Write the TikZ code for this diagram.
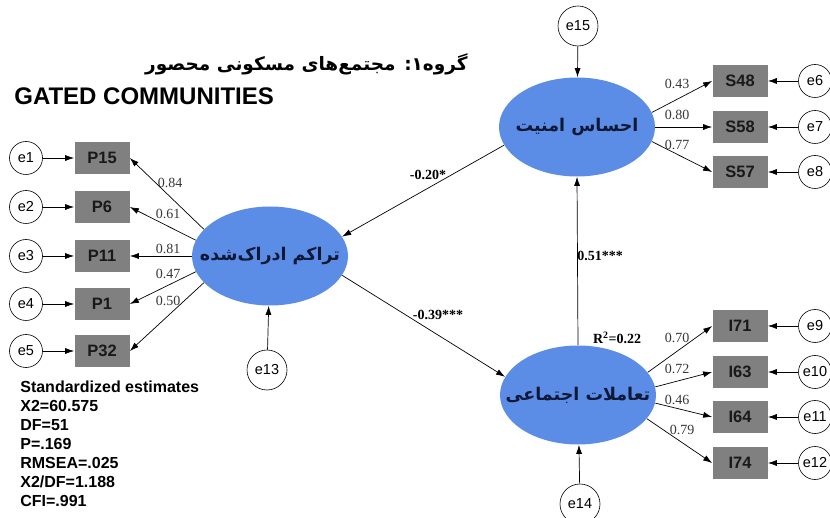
\documentclass[tikz,border=0pt]{standalone}
\usepackage{fontspec}
\setmainfont{Liberation Serif}
\setsansfont{Liberation Sans}
\newfontfamily\arabicfont[Script=Arabic]{DejaVu Sans}
\TeXXeTstate=1
\usetikzlibrary{shapes.geometric,arrows.meta}
\definecolor{latentblue}{RGB}{92,141,230}
\definecolor{latenttext}{RGB}{15,25,55}
\definecolor{obsgray}{RGB}{128,128,128}
\definecolor{coefgray}{RGB}{55,55,55}
\newcommand{\fatext}[1]{\makebox[0pt]{\beginR #1\endR}}

\begin{document}
\begin{tikzpicture}[x=1pt, y=-1pt, >={Latex[length=9pt,width=6pt]}, line width=0.7pt,
    latent/.style={ellipse, fill=latentblue, minimum width=156pt, minimum height=99pt, inner sep=0pt,
      text=latenttext, font=\arabicfont\bfseries\fontsize{17.5}{20}\selectfont},
    obs/.style={rectangle, fill=obsgray, minimum width=55pt, minimum height=32pt, inner sep=0pt,
      text=black!90, font=\sffamily\bfseries\fontsize{16.5}{18}\selectfont},
    err/.style={circle, draw, fill=white, line width=0.6pt, inner sep=1pt, minimum size=33pt,
      font=\sffamily\fontsize{14.5}{15}\selectfont},
    errbig/.style={err, minimum size=40pt},
    coef/.style={text=coefgray, inner sep=0pt, font=\fontsize{14}{15}\selectfont},
    path coef/.style={inner sep=0pt, font=\bfseries\fontsize{14}{15}\selectfont}]
  \useasboundingbox (0,0) rectangle (830,518);

  % titles
  \node[anchor=east, inner sep=0pt, font=\arabicfont\bfseries\fontsize{18.5}{20}\selectfont] (titlefa) at (468,64)
    {\beginR گروه۱: مجتمع^^^^200cهای مسکونی محصور\endR};
  \node[anchor=base west, inner sep=0pt, font=\sffamily\bfseries\fontsize{24}{26}\selectfont] (titleen) at (14,105)
    {GATED COMMUNITIES};

  % latent variables
  \node[latent] (tarakom) at (270,256) {\fatext{تراکم ادراک^^^^200cشده}};
  \node[latent] (amniat) at (577,127) {\fatext{احساس امنیت}};
  \node[latent] (taamol) at (578,395) {\fatext{تعاملات اجتماعی}};

  % observed variables, left
  \node[obs] (p15) at (102,158) {P15};
  \node[obs] (p6) at (102,207) {P6};
  \node[obs] (p11) at (102,256) {P11};
  \node[obs] (p1) at (102,304) {P1};
  \node[obs] (p32) at (102,351) {P32};
  \node[err] (e1) at (26,158) {e1};
  \node[err] (e2) at (26,207) {e2};
  \node[err] (e3) at (26,256) {e3};
  \node[err] (e4) at (26,304) {e4};
  \node[err] (e5) at (26,351) {e5};
  \draw[->] (e1) -- (p15);
  \draw[->] (e2) -- (p6);
  \draw[->] (e3) -- (p11);
  \draw[->] (e4) -- (p1);
  \draw[->] (e5) -- (p32);
  \draw[->] (tarakom.158) -- (p15.east);
  \draw[->] (tarakom.168) -- (p6.east);
  \draw[->] (tarakom.180) -- (p11.east);
  \draw[->] (tarakom.192) -- (p1.east);
  \draw[->] (tarakom.202) -- (p32.east);
  \node[coef] (l84) at (170,183) {0.84};
  \node[coef] (l61) at (168,214) {0.61};
  \node[coef] (l81) at (168,249) {0.81};
  \node[coef] (l47) at (168,274) {0.47};
  \node[coef] (l50) at (168,301) {0.50};

  % observed variables, security
  \node[obs] (s48) at (740,81) {S48};
  \node[obs] (s58) at (740,127) {S58};
  \node[obs] (s57) at (740,172) {S57};
  \node[err] (e6) at (815,81) {e6};
  \node[err] (e7) at (815,127) {e7};
  \node[err] (e8) at (815,172) {e8};
  \draw[->] (e6) -- (s48);
  \draw[->] (e7) -- (s58);
  \draw[->] (e8) -- (s57);
  \draw[->] (amniat.11) -- (s48.west);
  \draw[->] (amniat.0) -- (s58.west);
  \draw[->] (amniat.349) -- (s57.west);
  \node[coef] (l43) at (677,84) {0.43};
  \node[coef] (l80) at (677,115) {0.80};
  \node[coef] (l77) at (677,145) {0.77};

  % observed variables, interaction
  \node[obs] (i71) at (740,326) {I71};
  \node[obs] (i63) at (740,372) {I63};
  \node[obs] (i64) at (740,417) {I64};
  \node[obs] (i74) at (740,463) {I74};
  \node[err] (e9) at (815,326) {e9};
  \node[err] (e10) at (815,372) {e10};
  \node[err] (e11) at (815,417) {e11};
  \node[err] (e12) at (815,463) {e12};
  \draw[->] (e9) -- (i71);
  \draw[->] (e10) -- (i63);
  \draw[->] (e11) -- (i64);
  \draw[->] (e12) -- (i74);
  \draw[->] (taamol.18) -- (i71.west);
  \draw[->] (taamol.6) -- (i63.west);
  \draw[->] (taamol.354) -- (i64.west);
  \draw[->] (taamol.341) -- (i74.west);
  \node[coef] (l70) at (677,338) {0.70};
  \node[coef] (l72) at (677,369) {0.72};
  \node[coef] (l46) at (677,400) {0.46};
  \node[coef] (l79) at (682,430) {0.79};

  % structural paths
  \node[errbig] (e13) at (267,370) {e13};
  \node[errbig] (e14) at (580,504) {e14};
  \node[errbig] (e15) at (578,26) {e15};
  \draw[->] (e13) -- (tarakom);
  \draw[->] (e14) -- (taamol);
  \draw[->] (e15) -- (amniat);
  \draw[->] (amniat.194) -- (tarakom.15);
  \draw[->] (tarakom.345) -- (taamol.166);
  \draw[->] (taamol.north) -- (amniat.south);
  \node[path coef] (b20) at (428,175) {-0.20*};
  \node[path coef] (b39) at (438,315) {-0.39***};
  \node[path coef] (b51) at (600,256) {0.51***};
  \node[path coef] (r2) at (617,338) {R\textsuperscript{2}=0.22};

  % fit indices
  \node[anchor=north west, inner sep=0pt, align=left,
    font=\sffamily\bfseries\fontsize{16}{19}\selectfont] (fit) at (20,381)
    {Standardized estimates\\X2=60.575\\DF=51\\P=.169\\RMSEA=.025\\X2/DF=1.188\\CFI=.991};
\end{tikzpicture}
\end{document}
